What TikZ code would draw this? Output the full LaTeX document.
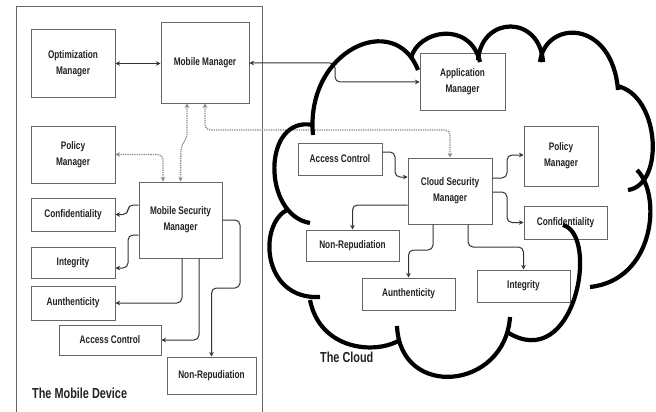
\documentclass[tikz,border=0pt]{standalone}
\usepackage{fontspec}
\newfontfamily\bxf[FakeStretch=0.75]{Liberation Sans}
\usetikzlibrary{arrows.meta,calc}
\definecolor{boxline}{HTML}{666666}
\definecolor{conline}{HTML}{333333}
\definecolor{dotline}{HTML}{8A8A8A}
\definecolor{txt}{HTML}{222222}
\begin{document}
\begin{tikzpicture}[x=1pt,y=-1pt,
  bx/.style={draw=boxline,line width=1pt,fill=white,inner sep=0pt,align=center,
    font=\bxf\bfseries\fontsize{11}{16}\selectfont,text=txt},
  arr/.style={draw=conline,line width=1pt,rounded corners=5pt,-{Stealth[length=4.5pt,width=4.5pt]}},
  barr/.style={draw=conline,line width=1pt,rounded corners=5pt,{Stealth[length=4.5pt,width=4.5pt]}-{Stealth[length=4.5pt,width=4.5pt]}},
  dotc/.style={draw=dotline,line width=1.3pt,densely dotted,rounded corners=5pt,{Stealth[length=4.5pt,width=4.5pt]}-{Stealth[length=4.5pt,width=4.5pt]}},
  cloudline/.style={draw=black,line width=4.2pt},
  lbl/.style={font=\bxf\bfseries\fontsize{14.5}{16}\selectfont,text=txt,inner sep=0pt,anchor=west}]
\useasboundingbox[fill=white] (0,0) rectangle (656,412);
% mobile device frame
\draw[boxline,line width=1pt] (16,420) -- (16,7) -- (262,7) -- (262,420);
% left boxes
\node[bx,minimum width=84,minimum height=67] (opt) at (73,63.5) {Optimization\\Manager};
\node[bx,minimum width=88,minimum height=80] (mm) at (205,63) {Mobile Manager};
\node[bx,minimum width=84,minimum height=57] (polL) at (73,154.5) {Policy\\Manager};
\node[bx,minimum width=83,minimum height=76] (msm) at (180.5,220) {Mobile Security\\Manager};
\node[bx,minimum width=84,minimum height=33] (confL) at (73,214.5) {Confidentiality};
\node[bx,minimum width=84,minimum height=31] (intL) at (73,262.5) {Integrity};
\node[bx,minimum width=84,minimum height=34] (authL) at (73,303) {Aunthenticity};
\node[bx,minimum width=102,minimum height=30] (acL) at (110,340) {Access Control};
\node[bx,minimum width=89,minimum height=37] (nrL) at (211.5,375.5) {Non-Repudiation};
\node[lbl] (mdev) at (32,393) {The Mobile Device};
% cloud boxes
\node[bx,minimum width=85,minimum height=56] (app) at (462.5,82) {Application\\Manager};
\node[bx,minimum width=84,minimum height=32] (acC) at (340,159) {Access Control};
\node[bx,minimum width=84,minimum height=66] (csm) at (450,191) {Cloud Security\\Manager};
\node[bx,minimum width=74,minimum height=60] (polC) at (561,156) {Policy\\Manager};
\node[bx,minimum width=83,minimum height=33] (confC) at (565.5,222.5) {Confidentiality};
\node[bx,minimum width=93,minimum height=31] (nrC) at (352.5,245.5) {Non-Repudiation};
\node[bx,minimum width=93,minimum height=32] (authC) at (408.5,294) {Aunthenticity};
\node[bx,minimum width=93,minimum height=32] (intC) at (523.5,286) {Integrity};
% connectors, mobile side
\draw[barr] (opt.east) -- (opt.east -| mm.west);
\draw[barr] (mm.east) -- (335,63) -- (335,82) -- (app.west);
\draw[dotc] (mm.south) -- (205,130) -- (450,130) -- (csm.north);
\draw[dotc] ($(mm.south)+(-18,0)$) -- (187,138) -- (181,146) -- (msm.north);
\draw[dotc] (polL.east) -- (163,154.5) -- ($(msm.north)+(-17.5,0)$);
\draw[arr] ($(msm.west)+(0,-15)$) -- (128,205) -- (128,214.5) -- (confL.east);
\draw[arr] ($(msm.west)+(0,15)$) -- (128,235) -- (128,268) -- ($(intL.east)+(0,5.5)$);
\draw[arr] ($(msm.south)+(1.5,0)$) -- (182,303) -- (authL.east);
\draw[arr] ($(msm.south)+(18.5,0)$) -- (199,340) -- (acL.east);
\draw[arr] (msm.east) -- (240,220) -- (240,288) -- (211.5,288) -- (nrL.north);
% connectors, cloud side
\draw[arr] ($(acC.east)+(0,-7)$) -- (395,152) -- (395,177) -- ($(csm.west)+(0,-14)$);
\draw[arr] ($(csm.east)+(0,-13)$) -- (507,178) -- (507,155) -- ($(polC.west)+(0,-1)$);
\draw[arr] ($(csm.east)+(0,1)$) -- (507,192) -- (507,222.5) -- (confC.west);
\draw[arr] ($(csm.west)+(0,14)$) -- (352.5,205) -- (nrC.north);
\draw[arr] ($(csm.south)+(-17,0)$) -- (433,250) -- (408.5,250) -- (authC.north);
\draw[arr] ($(csm.south)+(18,0)$) -- (468,247) -- (523.5,247) -- (intC.north);
% the cloud outline
\draw[cloudline] (313,135) .. controls (305,50) and (395,10) .. (418,70);
\draw[cloudline] (411,58) .. controls (418,30) and (470,20) .. (480,62);
\draw[cloudline] (478,60) .. controls (482,15) and (540,15) .. (543,62);
\draw[cloudline] (540,62) .. controls (545,20) and (612,18) .. (618,90);
\draw[cloudline] (617,86) .. controls (660,95) and (665,185) .. (628,190);
\draw[cloudline] (637,170) .. controls (662,195) and (655,280) .. (590,287);
\draw[cloudline] (563,225) .. controls (600,235) and (575,375) .. (507,332);
\draw[cloudline] (510,317) .. controls (505,390) and (400,400) .. (397,326);
\draw[cloudline] (400,340) .. controls (375,355) and (320,350) .. (310,300);
\draw[cloudline] (320,297) .. controls (262,300) and (258,225) .. (287,210);
\draw[cloudline] (310,223) .. controls (262,215) and (262,115) .. (313,125);
\node[lbl] (cld) at (320,357) {The Cloud};
\end{tikzpicture}
\end{document}
